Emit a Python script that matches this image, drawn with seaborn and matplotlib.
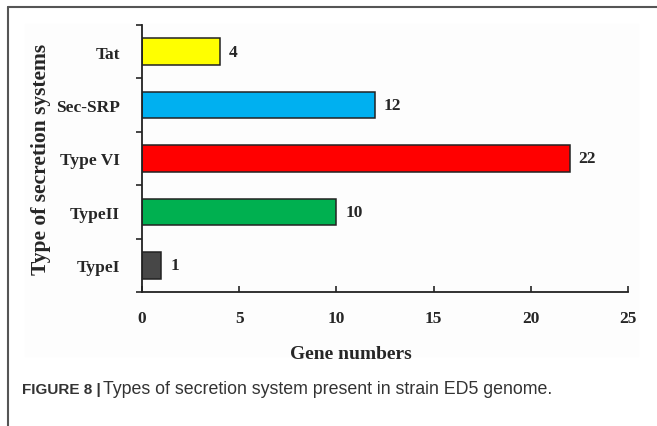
import numpy as np
import pandas as pd
import matplotlib
matplotlib.use("Agg")
import matplotlib.pyplot as plt
import seaborn as sns
from matplotlib.lines import Line2D
from matplotlib.patches import Rectangle

# dados
sistemas = ['Tat', 'Sec-SRP', 'Type VI', 'TypeII', 'TypeI']
genes = [4, 12, 22, 10, 1]
cores = ['#FFFF00', '#00B0F0', '#FF0000', '#00B050', '#474747']

df = pd.DataFrame({'sistema': sistemas, 'genes': genes})

sns.set_style('ticks')
plt.rcParams['font.family'] = ['Liberation Serif', 'DejaVu Serif']

fig = plt.figure(figsize=(6.57, 4.27), dpi=100)

# fundo levemente cinza do painel e moldura da figura
fig.patches.append(Rectangle((25 / 657, 1 - 357 / 427), 613 / 657, 332 / 427,
                             transform=fig.transFigure, color='#fdfdfd', zorder=-5))
fig.lines.append(Line2D([8 / 657, 1], [1 - 8 / 427, 1 - 8 / 427], transform=fig.transFigure,
                        color='#555555', lw=1.5))
fig.lines.append(Line2D([8 / 657, 8 / 657], [0, 1 - 8 / 427], transform=fig.transFigure,
                        color='#555555', lw=1.5))

ax = fig.add_axes([0.216, 0.314, 0.740, 0.625])
ax.set_zorder(2)
ax.patch.set_alpha(0)

sns.barplot(data=df, x='genes', y='sistema', hue='sistema', palette=cores,
            order=sistemas, hue_order=sistemas, legend=False, width=0.5,
            edgecolor='#222222', linewidth=1.1, saturation=1, ax=ax)

# rótulos de valor
for i, v in enumerate(genes):
    ax.text(v + 0.45, i, str(v), va='center', ha='left', fontsize=12.5, fontweight='bold')

ax.set_xlim(0, 25)
ax.set_ylim(4.5, -0.5)
ax.set_xticks([0, 5, 10, 15, 20, 25])
ax.set_yticks(range(len(sistemas)))
ax.set_yticklabels(sistemas)
ax.set_yticks(np.arange(-0.5, 5, 1), minor=True)

for lab in ax.get_xticklabels() + ax.get_yticklabels():
    lab.set_fontweight('bold')
    lab.set_fontsize(12.5)

ax.tick_params(axis='y', which='major', length=0, pad=16)
ax.tick_params(axis='y', which='minor', length=4, width=1.2, direction='out')
ax.tick_params(axis='x', which='major', length=4, width=1.2, direction='in', pad=13)

for s in ['top', 'right']:
    ax.spines[s].set_visible(False)
for s in ['left', 'bottom']:
    ax.spines[s].set_linewidth(1.3)
    ax.spines[s].set_color('#222222')

ax.set_xlabel('Gene numbers', fontsize=14, fontweight='bold')
ax.xaxis.set_label_coords(0.43, -0.2)
ax.set_ylabel('Type of secretion systems', fontsize=15.5, fontweight='bold')
ax.yaxis.set_label_coords(-0.187, 0.5)

# legenda da figura
fig.text(22 / 657, 1 - 390 / 427, 'FIGURE 8 |', fontsize=11, fontweight='bold',
         family=['Liberation Sans', 'DejaVu Sans'], color='#333333', va='center')
fig.text(103 / 657, 1 - 390 / 427, 'Types of secretion system present in strain ED5 genome.',
         fontsize=12.8, family=['Liberation Sans', 'DejaVu Sans'], color='#333333', va='center')

fig.savefig('out.png', dpi=100)
